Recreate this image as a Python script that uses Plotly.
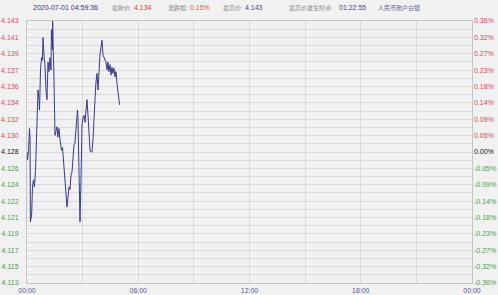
import plotly.graph_objects as go

# time in minutes since 00:00, price
minutes = [0, 1.6, 5, 8, 10, 11, 15, 18, 21, 24, 27.5, 31, 34, 35.6, 39, 40.5, 43.7, 47, 50, 51.8,
           55, 58, 61.5, 64.7, 68, 71, 74.4, 77.7, 79, 82.5, 82.92, 86, 87.4, 90.6, 94, 97, 100, 103.5,
           106.8, 111.6, 115, 119.7, 123, 126, 129.4, 132.6, 136, 139, 142.4, 145.6, 149, 152, 155,
           157, 158.6, 162, 163.4, 165, 168, 171.5, 174.7, 178, 181, 184.5, 187.7, 191, 194, 197.4,
           200.6, 204, 207, 210, 213.6, 216.8, 220, 223, 226.5, 229.8, 233, 236, 239.5, 242.7, 246,
           249, 252.4, 255.6, 259, 262, 265, 268.6, 271.8, 275, 278, 281.5, 284.8, 288, 291, 294.5,
           297.7, 299.6]
prices = [4.1280, 4.1271, 4.1282, 4.1307, 4.1294, 4.1200, 4.1208, 4.1242, 4.1248, 4.1240, 4.1259,
          4.1299, 4.1309, 4.1351, 4.1340, 4.1328, 4.1374, 4.1388, 4.1385, 4.1411, 4.1391, 4.1380,
          4.1351, 4.1340, 4.1383, 4.1372, 4.1388, 4.1374, 4.1420, 4.1397, 4.1430, 4.1391, 4.1362,
          4.1299, 4.1305, 4.1309, 4.1297, 4.1307, 4.1294, 4.1282, 4.1285, 4.1263, 4.1248, 4.1233,
          4.1217, 4.1228, 4.1240, 4.1237, 4.1254, 4.1257, 4.1282, 4.1288, 4.1290, 4.1299, 4.1307,
          4.1319, 4.1328, 4.1317, 4.1259, 4.1200, 4.1248, 4.1311, 4.1319, 4.1322, 4.1314, 4.1334,
          4.1340, 4.1322, 4.1305, 4.1282, 4.1280, 4.1280, 4.1294, 4.1328, 4.1340, 4.1359, 4.1370,
          4.1351, 4.1374, 4.1391, 4.1400, 4.1408, 4.1391, 4.1389, 4.1385, 4.1383, 4.1374, 4.1383,
          4.1372, 4.1380, 4.1368, 4.1377, 4.1370, 4.1376, 4.1366, 4.1372, 4.1359, 4.1349, 4.1340,
          4.1334]

y_tick_vals = [4.143, 4.141125, 4.13925, 4.137375, 4.1355, 4.133625, 4.13175, 4.129875, 4.128,
               4.126125, 4.12425, 4.122375, 4.1205, 4.118625, 4.11675, 4.114875, 4.113]
y_tick_text = ["4.143", "4.141", "4.139", "4.137", "4.136", "4.134", "4.132", "4.130", "4.128",
               "4.126", "4.124", "4.122", "4.121", "4.119", "4.117", "4.115", "4.113"]
pct_tick_text = ["0.36%", "0.32%", "0.27%", "0.23%", "0.18%", "0.14%", "0.09%", "0.05%", "0.00%",
                 "-0.05%", "-0.09%", "-0.14%", "-0.18%", "-0.23%", "-0.27%", "-0.32%", "-0.36%"]
x_tick_vals = [0, 360, 720, 1080, 1440]
x_tick_text = ["00:00", "06:00", "12:00", "18:00", "00:00"]

RED = "#e04a5a"
GREEN = "#4aa04a"
BLACK = "#111111"

def colored(texts):
    out = []
    n = len(texts)
    mid = n // 2
    for i, t in enumerate(texts):
        c = RED if i < mid else (BLACK if i == mid else GREEN)
        out.append(f'<span style="color:{c}">{t}</span>')
    return out

fig = go.Figure()
fig.add_trace(go.Scatter(x=minutes, y=prices, mode="lines",
                         line=dict(color="#3a3a8e", width=1), showlegend=False,
                         hoverinfo="skip"))
fig.add_trace(go.Scatter(x=minutes, y=prices, mode="lines", yaxis="y2",
                         line=dict(color="rgba(0,0,0,0)", width=0), showlegend=False,
                         hoverinfo="skip"))

BG = "#f1f1f1"
GRID = "#dadada"
AXL = "#c4c4c4"
FONT = "Liberation Sans"

fig.update_layout(
    width=498, height=295,
    margin=dict(l=27, r=26, t=21, b=12),
    paper_bgcolor=BG, plot_bgcolor=BG,
    font=dict(family=FONT, size=7),
    xaxis=dict(range=[0, 1440], tickmode="array", tickvals=x_tick_vals, ticktext=x_tick_text,
               showgrid=True, gridcolor=GRID, gridwidth=1, zeroline=False, automargin=False,
               showline=True, linecolor=AXL, linewidth=1, mirror=True,
               tickfont=dict(color="#5a5a9a", size=7, family=FONT), ticks="",
               minor=dict(dtick=180, tick0=0, showgrid=True, gridcolor=GRID),
               ticklabelstandoff=1),
    yaxis=dict(range=[4.113, 4.143], tickmode="array", tickvals=y_tick_vals, automargin=False,
               ticktext=colored(y_tick_text), showgrid=True, gridcolor=GRID, zeroline=False,
               showline=True, linecolor=AXL, linewidth=1, mirror=True, ticks="",
               tickfont=dict(size=7, family=FONT), ticklabelstandoff=6,
               minor=dict(dtick=0.0009375, tick0=4.113, showgrid=True, gridcolor=GRID)),
    yaxis2=dict(range=[4.113, 4.143], overlaying="y", side="right", tickmode="array",
                tickvals=y_tick_vals, ticktext=colored(pct_tick_text), showgrid=False,
                zeroline=False, ticks="", tickfont=dict(size=7, family=FONT), automargin=False,
                ticklabelstandoff=1),
)

def px_to_paper(xp):
    return (xp - 27) / 445.0

GRAY = "#8a8a8a"
header = [
    (31, "2020-07-01 04:59:36", "#3a3a6a", 7),
    (110, "最新价:", GRAY, 6),
    (132, "4.134", "#e03a3a", 7),
    (166, "涨跌幅:", GRAY, 6),
    (188, "0.15%", "#ff4a4a", 7),
    (221, "最高价:", GRAY, 6),
    (243, "4.143", "#4a4a80", 7),
    (287, "最高价发生时点:", GRAY, 6),
    (337, "01:22:55", "#4a4a80", 7),
    (376, "人民币账户白银", "#6a6a8a", 6),
]
for xp, txt, col, sz in header:
    fig.add_annotation(x=px_to_paper(xp), y=1 + (21 - 8) / 262.0, xref="paper", yref="paper",
                       text=txt, showarrow=False, xanchor="left", yanchor="middle",
                       font=dict(size=sz, color=col, family=FONT + ", Noto Sans CJK SC"))

fig.write_html("out.html")
